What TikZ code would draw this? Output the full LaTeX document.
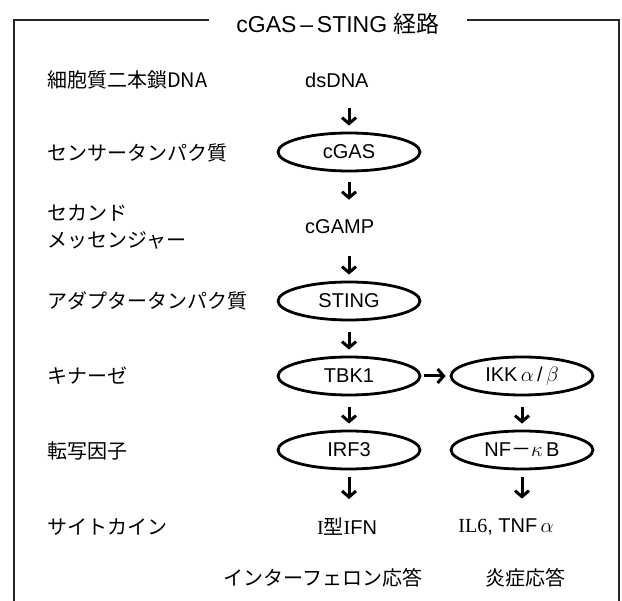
\documentclass[tikz,border=0pt]{standalone}
\usepackage{fontspec}
\setmainfont{Liberation Sans}
\newfontfamily\jp{Noto Sans CJK JP}
\newfontfamily\myserif{Liberation Serif}
\usetikzlibrary{shapes.geometric,arrows.meta}
\begin{document}
\begin{tikzpicture}[x=1pt,y=-1pt,
  lbl/.style={anchor=west,inner sep=0pt,font=\jp\fontsize{20}{27}\selectfont,align=left},
  mol/.style={inner sep=0pt,font=\fontsize{20}{24}\selectfont},
  oval/.style={ellipse,draw=black,line width=2.8pt,fill=white,minimum width=142pt,minimum height=38pt,inner sep=0pt,font=\fontsize{20}{24}\selectfont},
  arr/.style={line width=3pt,-{Straight Barb[length=6pt,width=14pt]}},
  frame/.style={line width=1.4pt,draw=black!85}]
\useasboundingbox (0,0) rectangle (622,601);
% title and frame
\node[inner xsep=27pt,inner ysep=0pt,font=\fontsize{23}{28}\selectfont] (title) at (338,24) {cGAS\,–\,STING {\jp 経路}};
\coordinate (tl) at (14,20);
\coordinate (tr) at (619,20);
\coordinate (bl) at (14,606);
\coordinate (br) at (619,606);
\draw[frame] (title.west |- tl) -- (tl) -- (bl);
\draw[frame] (title.east |- tr) -- (tr) -- (br);
% left labels
\node[lbl] (l1) at (47,80) {細胞質二本鎖DNA};
\node[lbl] (l2) at (47,153) {センサータンパク質};
\node[lbl] (l3) at (47,227) {セカンド\\メッセンジャー};
\node[lbl] (l4) at (47,301) {アダプタータンパク質};
\node[lbl] (l5) at (47,376) {キナーゼ};
\node[lbl] (l6) at (47,451) {転写因子};
\node[lbl] (l7) at (47,527) {サイトカイン};
% pathway
\node[mol,anchor=west] (dsdna) at (305,80) {dsDNA};
\node[oval] (cgas) at (349,152) {cGAS};
\node[mol,anchor=west] (cgamp) at (305,227) {cGAMP};
\node[oval] (sting) at (349,301) {STING};
\node[oval] (tbk1) at (349,376) {TBK1};
\node[oval] (irf3) at (349,450) {IRF3};
\node[mol] (ifn) at (347,527) {{\myserif I}{\jp 型}{\myserif I}FN};
\node[oval] (ikk) at (522,376) {IKK\,$\alpha$\,/\,$\beta$};
\node[oval] (nfkb) at (522,450) {NF{\jp －}$\kappa$\,B};
\node[mol] (il6) at (506,527) {{\myserif IL6}, TNF\,$\alpha$};
\node[lbl,anchor=center] (ifnresp) at (323,578) {インターフェロン応答};
\node[lbl,anchor=center] (inflam) at (525,578) {炎症応答};
% arrows
\draw[arr,shorten <=20pt,shorten >=6pt] (cgas |- dsdna.south) -- (cgas.north);
\draw[arr,shorten <=10pt,shorten >=20pt] (cgas.south) -- (cgas |- cgamp.north);
\draw[arr,shorten <=22pt,shorten >=6pt] (cgas |- cgamp.south) -- (sting.north);
\draw[arr,shorten <=11pt,shorten >=6pt] (sting) -- (tbk1);
\draw[arr,shorten <=11pt,shorten >=6pt] (tbk1) -- (irf3);
\draw[arr,shorten <=7pt,shorten >=19pt] (irf3.south) -- (irf3 |- ifn.north);
\draw[arr,shorten <=3pt,shorten >=4pt] (tbk1) -- (ikk);
\draw[arr,shorten <=11pt,shorten >=6pt] (ikk) -- (nfkb);
\draw[arr,shorten <=7pt,shorten >=20pt] (nfkb.south) -- (nfkb |- il6.north);
\end{tikzpicture}
\end{document}
